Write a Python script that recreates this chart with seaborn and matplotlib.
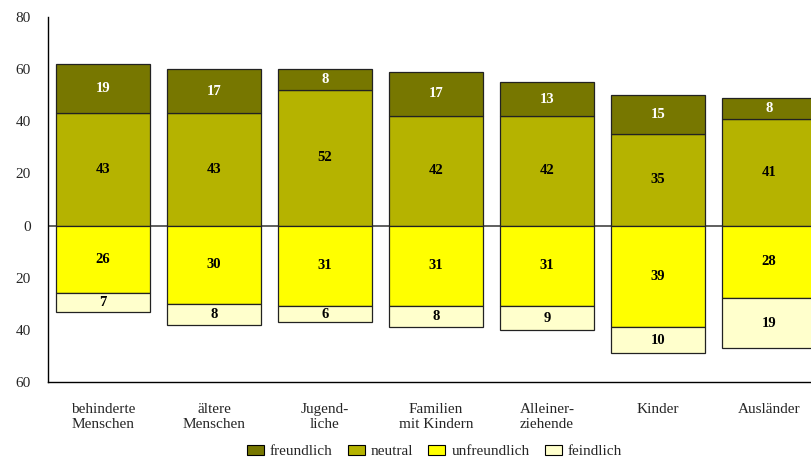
import numpy as np
import pandas as pd
import seaborn as sns
import matplotlib.pyplot as plt
from matplotlib.patches import Patch

# chart data
categories = ['behinderte\nMenschen', 'ältere\nMenschen', 'Jugend-\nliche', 'Familien\nmit Kindern',
              'Alleiner-\nziehende', 'Kinder', 'Ausländer']
freundlich = [19, 17, 8, 17, 13, 15, 8]
neutral = [43, 43, 52, 42, 42, 35, 41]
unfreundlich = [26, 30, 31, 31, 31, 39, 28]
feindlich = [7, 8, 6, 8, 9, 10, 19]

series_names = ['freundlich', 'neutral', 'unfreundlich', 'feindlich']
colors = {'freundlich': '#777700', 'neutral': '#B5B300',
          'unfreundlich': '#FFFF00', 'feindlich': '#FFFFCC'}

sns.set_style('white')
plt.rcParams['font.family'] = ['Liberation Serif', 'DejaVu Serif']

fig = plt.figure(figsize=(8.12, 4.59), dpi=100)
ax = fig.add_axes([0.0585, 0.168, 0.957, 0.795])

neu = np.array(neutral)
unf = np.array(unfreundlich)
layers = [
    ('neutral', neu, 0 * neu),
    ('freundlich', np.array(freundlich), neu),
    ('unfreundlich', -unf, 0 * unf),
    ('feindlich', -np.array(feindlich), -unf),
]

for name, vals, base in layers:
    df = pd.DataFrame({'cat': categories, 'val': vals})
    sns.barplot(data=df, x='cat', y='val', bottom=base, color=colors[name],
                saturation=1, width=0.85, edgecolor='#222222', linewidth=0.9, ax=ax)
    cont = ax.containers[-1]
    txt_color = 'white' if name == 'freundlich' else 'black'
    ax.bar_label(cont, labels=[str(abs(v)) for v in vals], label_type='center',
                 fontsize=10.5, fontweight='bold', color=txt_color)

ax.axhline(0, color='#444444', linewidth=1.2, zorder=0.5)
ax.set_ylim(-60, 80)
ax.set_xlim(-0.5, 6.5)
yt = [-60, -40, -20, 0, 20, 40, 60, 80]
ax.set_yticks(yt)
ax.set_yticklabels([str(abs(t)) for t in yt], fontsize=11)
ax.tick_params(axis='x', labelsize=11, length=0, pad=15)
ax.tick_params(axis='y', length=0, pad=12)
ax.set_xlabel('')
ax.set_ylabel('')
for side in ['top', 'right']:
    ax.spines[side].set_visible(False)
for side in ['left', 'bottom']:
    ax.spines[side].set_color('black')
    ax.spines[side].set_linewidth(1.0)

handles = [Patch(facecolor=colors[n], edgecolor='black', linewidth=0.8) for n in series_names]
fig.legend(handles, series_names, loc='center', bbox_to_anchor=(0.535, 0.016), ncol=4,
           frameon=False, fontsize=11, handlelength=1.1, handleheight=0.6,
           handletextpad=0.4, columnspacing=1.0)

fig.savefig('out.png', dpi=100)
